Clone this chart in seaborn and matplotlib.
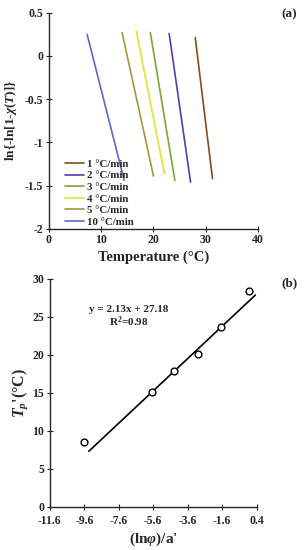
import numpy as np
import pandas as pd
import matplotlib
matplotlib.use("Agg")
import matplotlib.pyplot as plt
import seaborn as sns

# panel (a): straight lines, end points
rates = ["1 °C/min", "2 °C/min", "3 °C/min", "4 °C/min", "5 °C/min", "10 °C/min"]
t_start = [28.0, 23.0, 19.4, 16.7, 14.0, 7.3]
t_end = [31.3, 27.1, 24.1, 22.1, 20.0, 14.4]
y_start = [0.21, 0.26, 0.27, 0.29, 0.27, 0.25]
y_end = [-1.42, -1.46, -1.44, -1.36, -1.39, -1.44]
line_colors = ["#8B4A1E", "#5B3AB0", "#7FA33A", "#E2E22E", "#A8963A", "#5A6CC8"]

# panel (b): Ozawa-type points and fit
x_pts = [-9.63, -5.70, -4.42, -3.03, -1.67, -0.03]
tp_pts = [8.5, 15.1, 17.8, 20.1, 23.6, 28.4]
slope, intercept = 2.13, 27.18
fit_x = [-9.34, 0.32]

sns.set_theme(style="ticks")
plt.rcParams["font.family"] = ["Liberation Serif", "DejaVu Serif"]
plt.rcParams["font.weight"] = "bold"
plt.rcParams["mathtext.fontset"] = "custom"
plt.rcParams["mathtext.rm"] = "Liberation Serif:bold"
plt.rcParams["mathtext.it"] = "Liberation Serif:italic:bold"
plt.rcParams["mathtext.bf"] = "Liberation Serif:bold"

fig = plt.figure(figsize=(3.06, 5.5), dpi=100)
ax1 = fig.add_axes([0.160, 0.584, 0.683, 0.393])
ax2 = fig.add_axes([0.163, 0.079, 0.676, 0.414])

rows = []
for r, a, b, c, d in zip(rates, t_start, t_end, y_start, y_end):
    rows.append({"rate": r, "T": a, "y": c})
    rows.append({"rate": r, "T": b, "y": d})
df_a = pd.DataFrame(rows)
sns.lineplot(data=df_a, x="T", y="y", hue="rate", hue_order=rates,
             palette=line_colors, ax=ax1, lw=1.2, sort=False, estimator=None)
ax1.set_xlim(0, 40)
ax1.set_ylim(-2, 0.5)
ax1.set_xticks([0, 10, 20, 30, 40])
ax1.set_yticks([-2, -1.5, -1, -0.5, 0, 0.5])
ax1.set_yticklabels(["-2", "-1.5", "-1", "-0.5", "0", "0.5"])
ax1.set_xlabel("Temperature (°C)", fontsize=10.5, fontweight="bold", labelpad=3)
ax1.set_ylabel(r"ln{-ln[1-$\chi$($T$)]}", fontsize=9.5, fontweight="bold", labelpad=4)
leg = ax1.legend(loc="lower left", bbox_to_anchor=(0.03, -0.035), frameon=False,
                 fontsize=7.8, handlelength=1.8, labelspacing=0.18, handletextpad=0.25)
for t in leg.get_texts():
    t.set_fontweight("bold")

df_b = pd.DataFrame({"x": x_pts, "Tp": tp_pts})
df_fit = pd.DataFrame({"x": fit_x, "Tp": [slope * v + intercept for v in fit_x]})
sns.lineplot(data=df_fit, x="x", y="Tp", color="black", lw=1.2, ax=ax2)
sns.scatterplot(data=df_b, x="x", y="Tp", marker="o", s=24, facecolor="white",
                edgecolor="black", linewidth=1.0, ax=ax2, zorder=3)
ax2.set_xlim(-11.6, 0.4)
ax2.set_ylim(0, 30)
xt = [-11.6, -9.6, -7.6, -5.6, -3.6, -1.6, 0.4]
ax2.set_xticks(xt)
ax2.set_xticklabels([f"{v:g}" for v in xt])
ax2.set_yticks([0, 5, 10, 15, 20, 25, 30])
ax2.set_xlabel(r"(ln$\varphi$)/a'", fontsize=11, fontweight="bold", labelpad=3)
ax2.set_ylabel(r"$T_p$'(°C)", fontsize=11.5, fontweight="bold", labelpad=2)
ax2.text(-7.0, 25.0, "y = 2.13x + 27.18\nR$^2$=0.98", fontsize=8, fontweight="bold",
         ha="center", va="center", multialignment="center", linespacing=1.05)

for ax in (ax1, ax2):
    sns.despine(ax=ax)
    ax.spines["left"].set_linewidth(1.0)
    ax.spines["bottom"].set_linewidth(1.0)
    ax.tick_params(direction="inout", length=4, width=0.8, labelsize=8.5, pad=2)
    for lab in ax.get_xticklabels() + ax.get_yticklabels():
        lab.set_fontweight("bold")
ax2.tick_params(axis="x", pad=4)

fig.text(0.945, 0.974, "(a)", fontsize=9.5, fontweight="bold", ha="center", va="center")
fig.text(0.945, 0.485, "(b)", fontsize=9.5, fontweight="bold", ha="center", va="center")

fig.savefig("out.png", dpi=100)
